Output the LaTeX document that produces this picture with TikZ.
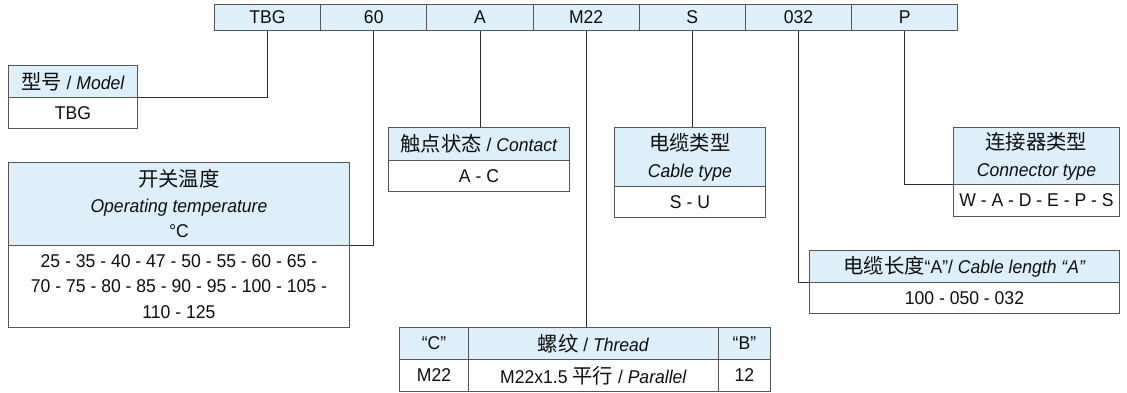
\documentclass[tikz,border=0pt]{standalone}
\usepackage{fontspec}
\setmainfont{Liberation Sans}[FakeStretch=0.95]
\newfontfamily\cjk{Noto Sans CJK SC}[Scale=1.1]
\definecolor{hdrblue}{RGB}{221,239,250}
\definecolor{bordercol}{RGB}{85,85,85}
\definecolor{linecol}{RGB}{45,45,45}
\definecolor{txtcol}{RGB}{15,15,15}
\begin{document}
\begin{tikzpicture}[x=1pt,y=-1pt,
  font=\fontsize{18.5}{25.5}\selectfont, text=txtcol,
  cell/.style={draw=bordercol, fill=hdrblue, line width=0.9pt, anchor=north west,
    minimum width=106.2pt, minimum height=26pt, inner sep=0pt},
  hdr/.style={draw=bordercol, fill=hdrblue, line width=0.9pt, anchor=north west,
    inner sep=0pt, align=center},
  bdy/.style={draw=bordercol, fill=white, line width=0.9pt, anchor=north west,
    inner sep=0pt, align=center},
  link/.style={draw=linecol, line width=0.9pt}]
\useasboundingbox (0,0) rectangle (1127,392);

% top code bar
\node[cell] (c1) at (214,4) {TBG};
\node[cell] (c2) at (320.2,4) {60};
\node[cell] (c3) at (426.4,4) {A};
\node[cell] (c4) at (532.6,4) {M22};
\node[cell] (c5) at (638.8,4) {S};
\node[cell] (c6) at (745,4) {032};
\node[cell] (c7) at (851.2,4) {P};

% boxes
\node[hdr, minimum width=129pt, minimum height=32pt] (modh) at (8,65) {{\cjk 型号} / \textit{Model}};
\node[bdy, minimum width=129pt, minimum height=31pt] (modb) at (8,97) {TBG};

\node[hdr, minimum width=341pt, minimum height=83pt] (temph) at (8,162)
  {{\cjk 开关温度}\\ \textit{Operating temperature}\\ °C};
\node[bdy, minimum width=341pt, minimum height=82pt] (tempb) at (8,245)
  {25 - 35 - 40 - 47 - 50 - 55 - 60 - 65 -\\ 70 - 75 - 80 - 85 - 90 - 95 - 100 - 105 -\\ 110 - 125};

\node[hdr, minimum width=181pt, minimum height=33pt] (conh) at (388,127) {{\cjk 触点状态} / \textit{Contact}};
\node[bdy, minimum width=181pt, minimum height=31pt] (conb) at (388,160) {A - C};

\node[hdr, minimum width=151pt, minimum height=59pt, font=\fontsize{18.5}{27}\selectfont] (cabh) at (614,127) {{\cjk 电缆类型}\\ \textit{Cable type}};
\node[bdy, minimum width=151pt, minimum height=31pt] (cabb) at (614,186) {S - U};

\node[hdr, minimum width=166pt, minimum height=57pt, font=\fontsize{18.5}{27}\selectfont] (cnth) at (953,127) {{\cjk 连接器类型}\\ \textit{Connector type}};
\node[bdy, minimum width=166pt, minimum height=32pt] (cntb) at (953,184) {W - A - D - E - P - S};

\node[hdr, minimum width=310pt, minimum height=32pt] (lenh) at (809,250) {{\cjk 电缆长度}“A”/ \textit{Cable length “A”}};
\node[bdy, minimum width=310pt, minimum height=31pt] (lenb) at (809,282) {100 - 050 - 032};

\node[hdr, minimum width=69pt, minimum height=32pt] (thr1) at (399,327) {“C”};
\node[hdr, minimum width=250pt, minimum height=32pt] (thr2) at (468,327) {{\cjk 螺纹} / \textit{Thread}};
\node[hdr, minimum width=52pt, minimum height=32pt] (thr3) at (718,327) {“B”};
\node[bdy, minimum width=69pt, minimum height=32pt] (thr4) at (399,359) {M22};
\node[bdy, minimum width=250pt, minimum height=32pt] (thr5) at (468,359) {M22x1.5 {\cjk 平行} / \textit{Parallel}};
\node[bdy, minimum width=52pt, minimum height=32pt] (thr6) at (718,359) {12};

% connectors
\draw[link] (c1.south) |- (modh.south east);
\draw[link] (c2.south) |- (temph.south east);
\draw[link] (c3.south) -- (c3.south |- conh.north);
\draw[link] (c4.south) -- (c4.south |- thr2.north);
\draw[link] (c5.south) -- (c5.south |- cabh.north);
\draw[link] (c6.south) |- (lenh.south west);
\draw[link] (c7.south) |- (cnth.south west);
\end{tikzpicture}
\end{document}
